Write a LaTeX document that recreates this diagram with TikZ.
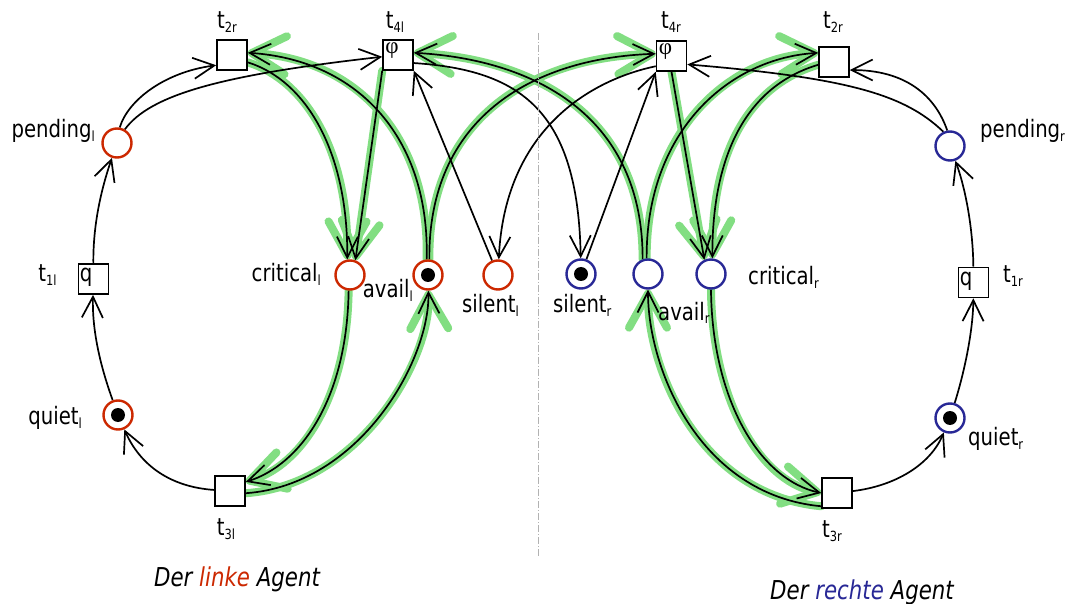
\documentclass[tikz,border=0pt]{standalone}
\usepackage{fontspec}
\setmainfont{DejaVu Sans}[FakeStretch=0.82]
\newfontfamily\phifont{Liberation Serif}
\usetikzlibrary{arrows.meta}
\definecolor{redc}{RGB}{204,40,0}
\definecolor{bluec}{RGB}{40,40,150}
\definecolor{glowc}{RGB}{130,222,130}
\pgfdeclarelayer{paper}
\pgfdeclarelayer{glow}
\pgfdeclarelayer{wires}
\pgfsetlayers{paper,glow,wires,main}
% small lowered index, as in t_{2r}
\newcommand\lo[1]{\raisebox{-4pt}{\fontsize{14}{14}\selectfont #1}}

\begin{document}
\begin{tikzpicture}[x=1pt,y=-1pt,
  place/.style={circle, draw, line width=2.4pt, minimum size=29pt, inner sep=0pt, fill=white},
  lp/.style={place, draw=redc},
  rp/.style={place, draw=bluec},
  tok/.style={circle, fill=black, minimum size=14pt, inner sep=0pt},
  trans/.style={rectangle, draw, line width=1.6pt, minimum size=30pt, inner sep=0pt, fill=white},
  arc/.style={line width=1.7pt, -{Straight Barb[length=21pt,width=21pt]}},
  hl/.style={line width=8pt, draw=glowc, line cap=round, -{Straight Barb[length=34pt,width=38pt,round]}},
  lbl/.style={inner sep=0pt, font=\fontsize{24}{28}\selectfont},
  inbox/.style={inner sep=0pt, anchor=north west, font=\fontsize{24}{28}\selectfont},
  phibox/.style={inner sep=0pt, anchor=north west, font=\fontsize{23}{26}\phifont},
  captxt/.style={inner sep=0pt, anchor=base, font=\fontsize{26}{30}\selectfont\itshape},
  sepline/.style={draw=black!30, line width=0.8pt, dash pattern=on 7pt off 2pt on 1pt off 2pt}
]
\begin{pgfonlayer}{paper}
  \fill[white] (0,0) rectangle (1072,604);
\end{pgfonlayer}
\useasboundingbox (0,0) rectangle (1072,604);

% separator between the two agents
\draw[sepline] (538,33) -- (538,556);

% places of the left agent
\node[lp] (pendL)   at (117,143) {};
\node[lp] (quietL)  at (118,415) {};
\node[lp] (critL)   at (350,275) {};
\node[lp] (availL)  at (428,275) {};
\node[lp] (silentL) at (498,275) {};
% places of the right agent
\node[rp] (silentR) at (581,274) {};
\node[rp] (availR)  at (648,274) {};
\node[rp] (critR)   at (711,274) {};
\node[rp] (pendR)   at (950,146) {};
\node[rp] (quietR)  at (950,418) {};
% tokens
\node[tok] (tkQL) at (quietL) {};
\node[tok] (tkAL) at (availL) {};
\node[tok] (tkSR) at (silentR) {};
\node[tok] (tkQR) at (quietR) {};

% transitions
\node[trans] (t1L) at (93.5,279) {};
\node[trans] (t2L) at (232,55) {};
\node[trans] (t4L) at (398,55) {};
\node[trans] (t3L) at (230,491) {};
\node[trans] (t4R) at (671.5,56) {};
\node[trans] (t2R) at (834,62) {};
\node[trans] (t1R) at (973.5,282.5) {};
\node[trans] (t3R) at (837,493) {};
\node[inbox]  (qL)   at ([shift={(2,5)}]t1L.north west) {q};
\node[inbox]  (qR)   at ([shift={(2,5)}]t1R.north west) {q};
\node[phibox] (phiL) at ([shift={(3,3)}]t4L.north west) {φ};
\node[phibox] (phiR) at ([shift={(3,3)}]t4R.north west) {φ};

% arcs carried by the highlight
\def\eA{(t2L.-25) .. controls (305,80) and (348,150) .. (critL.100)}
\def\eB{(availL.95) .. controls (430,140) and (360,60) .. (t2L.8)}
\def\eC{(t4L.south west) -- (critL.70)}
\def\eD{(availR.110) .. controls (643,120) and (540,60) .. (t4L.8)}
\def\eE{(critL.265) .. controls (347,400) and (300,465) .. (t3L.30)}
\def\eF{(t3L.-8) .. controls (360,485) and (430,360) .. (availL)}
\def\eG{(availL.85) .. controls (428,120) and (530,58) .. (t4R.172)}
\def\eH{(t4R.south) -- (critR.115)}
\def\eI{(t2R.190) .. controls (750,85) and (712,150) .. (critR.85)}
\def\eJ{(availR.95) .. controls (646,130) and (730,58) .. (t2R.150)}
\def\eK{(critR.south) .. controls (712,400) and (760,480) .. (t3R.180)}
\def\eL{(t3R.220) .. controls (700,495) and (648,370) .. (availR)}

\begin{pgfonlayer}{glow}
  \draw[hl] \eA; \draw[hl] \eB; \draw[hl] \eC; \draw[hl] \eD;
  \draw[hl] \eE; \draw[hl] \eF; \draw[hl] \eG; \draw[hl] \eH;
  \draw[hl] \eI; \draw[hl] \eJ; \draw[hl] \eK; \draw[hl] \eL;
\end{pgfonlayer}

\begin{pgfonlayer}{wires}
  \draw[arc] \eA; \draw[arc] \eB; \draw[arc] \eC; \draw[arc] \eD;
  \draw[arc] \eE; \draw[arc] \eF; \draw[arc] \eG; \draw[arc] \eH;
  \draw[arc] \eI; \draw[arc] \eJ; \draw[arc] \eK; \draw[arc] \eL;
  % left agent cycle
  \draw[arc] (t1L) .. controls (93,225) and (101,190) .. (pendL);
  \draw[arc] (quietL) .. controls (100,365) and (92,330) .. (t1L);
  \draw[arc] (t3L) .. controls (170,487) and (140,465) .. (quietL);
  \draw[arc] (pendL.80) .. controls (128,100) and (165,72) .. (t2L.213);
  \draw[arc] (pendL.60) .. controls (150,95) and (220,75) .. (t4L);
  % silent places
  \draw[arc] (t4L.-27) .. controls (520,70) and (578,110) .. (silentR);
  \draw[arc] (silentL) -- (t4L.south east);
  \draw[arc] (t4R.213) .. controls (590,80) and (505,130) .. (silentL);
  \draw[arc] (silentR) -- (t4R.south west);
  % right agent cycle
  \draw[arc] (pendR.100) .. controls (935,95) and (905,70) .. (t2R.-27);
  \draw[arc] (pendR.115) .. controls (905,95) and (850,78) .. (t4R.-28);
  \draw[arc] (t1R) .. controls (973,230) and (966,190) .. (pendR);
  \draw[arc] (quietR) .. controls (965,370) and (973,330) .. (t1R);
  \draw[arc] (t3R) .. controls (895,486) and (930,465) .. (quietR);
\end{pgfonlayer}

% labels
\node[lbl, anchor=base] (lt2L) at (227,29) {t\lo{2r}};
\node[lbl, anchor=base] (lt4L) at (395,29) {t\lo{4l}};
\node[lbl, anchor=base] (lt4R) at (671,29) {t\lo{4r}};
\node[lbl, anchor=base] (lt2R) at (833,29) {t\lo{2r}};
\node[lbl, anchor=base east] (lpendL) at (95,138) {pending\lo{l}};
\node[lbl, anchor=base] (lt1L) at (47.5,282) {t\lo{1l}};
\node[lbl, anchor=base east] (lquietL) at (82,424) {quiet\lo{l}};
\node[lbl, anchor=base] (lt3L) at (226,535) {t\lo{3l}};
\node[lbl, anchor=base east] (lcritL) at (321,282) {critical\lo{l}};
\node[lbl, anchor=base east] (lavailL) at (413,298) {avail\lo{l}};
\node[lbl, anchor=base west] (lsilentL) at (462,313) {silent\lo{l}};
\node[lbl, anchor=base west] (lsilentR) at (553,313) {silent\lo{r}};
\node[lbl, anchor=base west] (lavailR) at (658,320) {avail\lo{r}};
\node[lbl, anchor=base west] (lcritR) at (748,285) {critical\lo{r}};
\node[lbl, anchor=base west] (lpendR) at (980,138) {pending\lo{r}};
\node[lbl, anchor=base west] (lt1R) at (1003,283) {t\lo{1r}};
\node[lbl, anchor=base west] (lquietR) at (968,445) {quiet\lo{r}};
\node[lbl, anchor=base west] (lt3R) at (822,537) {t\lo{3r}};

% captions
\node[captxt] (capL) at (237,586) {Der \textcolor{redc}{linke} Agent};
\node[captxt] (capR) at (862,599) {Der \textcolor{bluec}{rechte} Agent};
\end{tikzpicture}
\end{document}
